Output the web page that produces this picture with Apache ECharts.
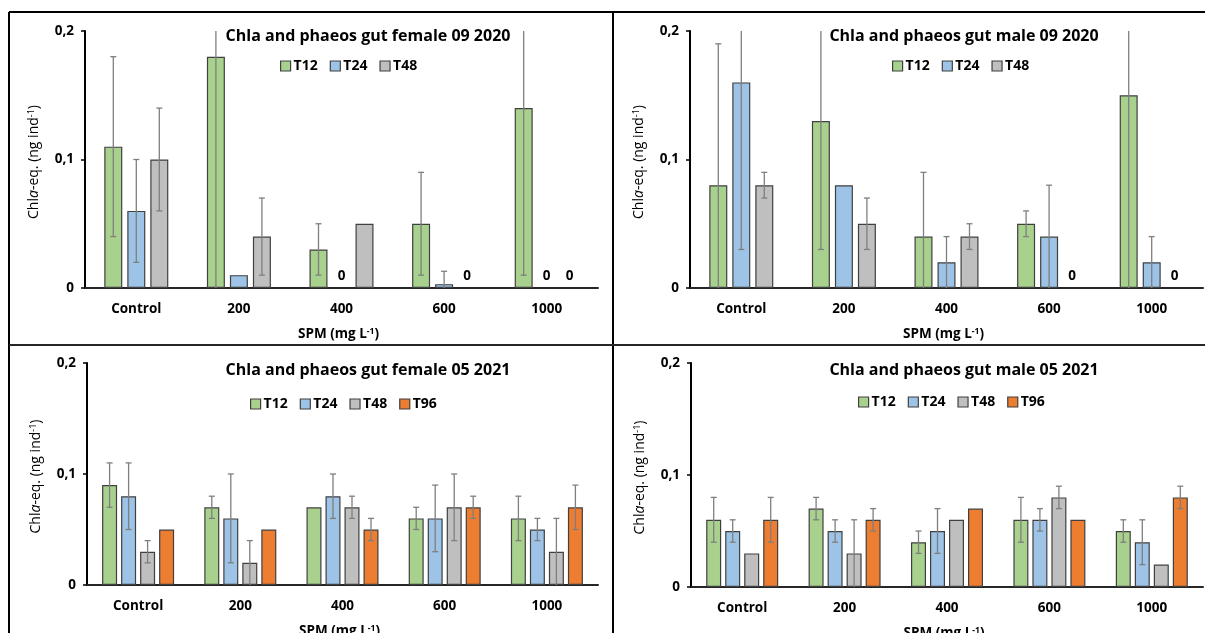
<!DOCTYPE html>
<html><head><meta charset="utf-8">
<script src="https://cdn.jsdelivr.net/npm/echarts@6/dist/echarts.min.js"></script>
<style>html,body{margin:0;padding:0;background:#fff}#c{width:1205px;height:633px}</style>
</head><body><div id="c"></div>
<script>
// ---------- data ----------
const categories = ['Control', '200', '400', '600', '1000'];
const yTickValues = [0, 0.1, 0.2];

const titleF20 = 'Chla and phaeos gut female 09 2020';
const titleM20 = 'Chla and phaeos gut male 09 2020';
const titleF21 = 'Chla and phaeos gut female 05 2021';
const titleM21 = 'Chla and phaeos gut male 05 2021';
const seriesNames3 = ['T12', 'T24', 'T48'];
const seriesNames4 = ['T12', 'T24', 'T48', 'T96'];

// female 09 2020 (means, sd)
const f20_T12 = [0.11, 0.18, 0.03, 0.05, 0.14];
const f20_T12_sd = [0.07, 0.19, 0.02, 0.04, 0.13];
const f20_T24 = [0.06, 0.01, 0, 0.003, 0];
const f20_T24_sd = [0.04, 0, 0, 0.01, 0];
const f20_T48 = [0.10, 0.04, 0.05, 0, 0];
const f20_T48_sd = [0.04, 0.03, 0, 0, 0];

// male 09 2020
const m20_T12 = [0.08, 0.13, 0.04, 0.05, 0.15];
const m20_T12_sd = [0.11, 0.10, 0.05, 0.01, 0.16];
const m20_T24 = [0.16, 0.08, 0.02, 0.04, 0.02];
const m20_T24_sd = [0.13, 0, 0.02, 0.04, 0.02];
const m20_T48 = [0.08, 0.05, 0.04, 0, 0];
const m20_T48_sd = [0.01, 0.02, 0.01, 0, 0];

// female 05 2021
const f21_T12 = [0.09, 0.07, 0.07, 0.06, 0.06];
const f21_T12_sd = [0.02, 0.01, 0, 0.01, 0.02];
const f21_T24 = [0.08, 0.06, 0.08, 0.06, 0.05];
const f21_T24_sd = [0.03, 0.04, 0.02, 0.03, 0.01];
const f21_T48 = [0.03, 0.02, 0.07, 0.07, 0.03];
const f21_T48_sd = [0.01, 0.02, 0.01, 0.03, 0.03];
const f21_T96 = [0.05, 0.05, 0.05, 0.07, 0.07];
const f21_T96_sd = [0, 0, 0.01, 0.01, 0.02];

// male 05 2021
const m21_T12 = [0.06, 0.07, 0.04, 0.06, 0.05];
const m21_T12_sd = [0.02, 0.01, 0.01, 0.02, 0.01];
const m21_T24 = [0.05, 0.05, 0.05, 0.06, 0.04];
const m21_T24_sd = [0.01, 0.01, 0.02, 0.01, 0.02];
const m21_T48 = [0.03, 0.03, 0.06, 0.08, 0.02];
const m21_T48_sd = [0, 0.03, 0, 0.01, 0];
const m21_T96 = [0.06, 0.06, 0.07, 0.06, 0.08];
const m21_T96_sd = [0.02, 0.01, 0, 0, 0.01];

// ---------- styles ----------
const FONT = '"Open Sans", "Noto Sans", sans-serif';
const colors = { T12: '#A9D18E', T24: '#9DC3E6', T48: '#BFBFBF', T96: '#ED7D31' };
const Y_MAX = 0.2;

const panels = [
  { title: titleF20, names: seriesNames3, vals: [f20_T12, f20_T24, f20_T48], sds: [f20_T12_sd, f20_T24_sd, f20_T48_sd],
    grid: { left: 85, top: 31, width: 513, height: 257 }, titleX: 368, titleY: 28, legendX: 280, legendY: 59, barW: 18, gapPx: 5 },
  { title: titleM20, names: seriesNames3, vals: [m20_T12, m20_T24, m20_T48], sds: [m20_T12_sd, m20_T24_sd, m20_T48_sd],
    grid: { left: 690, top: 31, width: 513, height: 257 }, titleX: 964, titleY: 28, legendX: 892, legendY: 59, barW: 18, gapPx: 5 },
  { title: titleF21, names: seriesNames4, vals: [f21_T12, f21_T24, f21_T48, f21_T96], sds: [f21_T12_sd, f21_T24_sd, f21_T48_sd, f21_T96_sd],
    grid: { left: 87, top: 363, width: 511, height: 222 }, titleX: 368, titleY: 362, legendX: 250, legendY: 397, barW: 15, gapPx: 4 },
  { title: titleM21, names: seriesNames4, vals: [m21_T12, m21_T24, m21_T48, m21_T96], sds: [m21_T12_sd, m21_T24_sd, m21_T48_sd, m21_T96_sd],
    grid: { left: 691, top: 363, width: 512, height: 224 }, titleX: 964, titleY: 362, legendX: 858, legendY: 395, barW: 15, gapPx: 4 }
];

const grids = [], xAxes = [], yAxes = [], series = [], titles = [], legends = [];

panels.forEach((p, pi) => {
  grids.push(Object.assign({ outerBoundsMode: 'none' }, p.grid));
  titles.push({ text: p.title, left: p.titleX, top: p.titleY, textAlign: 'center', padding: 0,
    textStyle: { fontFamily: FONT, fontSize: 16, fontWeight: 'bold', color: '#000' } });
  legends.push({ data: p.names, left: p.legendX, top: p.legendY, itemWidth: 10, itemHeight: 10, itemGap: 12,
    icon: 'rect', padding: 0,
    itemStyle: { borderColor: '#404040', borderWidth: 1.2 },
    textStyle: { fontFamily: FONT, fontSize: 14, fontWeight: 'bold', color: '#000', padding: [0, 0, 0, -2] },
    selectedMode: false });
  xAxes.push({ type: 'category', gridIndex: pi, data: categories,
    axisLine: { lineStyle: { color: '#262626', width: 2 } }, axisTick: { show: false },
    axisLabel: { fontFamily: FONT, fontSize: 13.5, fontWeight: 'bold', color: '#000', margin: 14 },
    name: '{n|SPM (mg L}{s|-1}{n|)}', nameLocation: 'middle', nameGap: 39,
    nameTextStyle: { padding: [0, 6, 0, 0], rich: { n: { fontFamily: FONT, fontSize: 13.5, fontWeight: 'bold', color: '#000' },
      s: { fontFamily: FONT, fontSize: 8.5, fontWeight: 'bold', color: '#000', padding: [0, 0, 6, 0] } } } });
  yAxes.push({ type: 'value', gridIndex: pi, min: 0, max: Y_MAX, interval: 0.1,
    axisLine: { show: true, lineStyle: { color: '#000', width: 2 } },
    axisTick: { show: true, length: 4, lineStyle: { color: '#000', width: 1.5 } },
    splitLine: { show: false },
    axisLabel: { fontFamily: FONT, fontSize: 13.5, fontWeight: 'bold', color: '#000', margin: 11,
      formatter: v => yTickValues.indexOf(+v.toFixed(3)) >= 0 ? String(+v.toFixed(3)).replace('.', ',') : '' },
    name: '{n|Chl}{i|a}{n|-eq. (ng ind}{s|-1}{n|)}', nameLocation: 'middle', nameGap: 43, nameRotate: 90,
    nameTextStyle: { padding: [0, 5, 0, 0], rich: { n: { fontFamily: FONT, fontSize: 14, color: '#000' },
      i: { fontFamily: FONT, fontSize: 14, fontStyle: 'italic', color: '#000' },
      s: { fontFamily: FONT, fontSize: 9, color: '#000', padding: [0, 0, 6, 0] } } } });

  const n = p.names.length;
  const gapPct = (p.gapPx / p.barW * 100).toFixed(1) + '%';
  p.names.forEach((nm, si) => {
    series.push({ type: 'bar', name: nm, xAxisIndex: pi, yAxisIndex: pi,
      barWidth: p.barW, barGap: gapPct,
      itemStyle: { color: colors[nm], borderColor: '#404040', borderWidth: 1.2 },
      label: { show: false, position: 'top', distance: 5, formatter: '0',
        fontFamily: FONT, fontSize: 13.5, fontWeight: 'bold', color: '#000' },
      data: p.vals[si].map(v => v === 0 ? { value: 0, itemStyle: { borderWidth: 0 }, label: { show: true } } : v),
      z: 2 });
    const offset = (si - (n - 1) / 2) * (p.barW + p.gapPx);
    series.push({ type: 'custom', name: 'err_' + nm, xAxisIndex: pi, yAxisIndex: pi, z: 5,
      data: p.vals[si].map((v, ci) => [ci, v, p.sds[si][ci]]),
      renderItem: (params, api) => {
        const v = api.value(1), sd = api.value(2);
        if (!(sd > 0)) return null;
        const lo = v - sd, hi = v + sd;
        const x = api.coord([api.value(0), 0])[0] + offset;
        const y1 = api.coord([api.value(0), Math.max(0, lo)])[1];
        const y2 = api.coord([api.value(0), Math.min(Y_MAX, hi)])[1];
        const st = { stroke: '#7F7F7F', lineWidth: 1.3 };
        const ch = [{ type: 'line', shape: { x1: x, y1: y1, x2: x, y2: y2 }, style: st }];
        if (lo > 0) ch.push({ type: 'line', shape: { x1: x - 3, y1: y1, x2: x + 3, y2: y1 }, style: st });
        if (hi < Y_MAX) ch.push({ type: 'line', shape: { x1: x - 3, y1: y2, x2: x + 3, y2: y2 }, style: st });
        return { type: 'group', children: ch };
      } });
  });
});

const B = '#000';
const graphic = [
  { type: 'line', shape: { x1: 9, y1: 12, x2: 1205, y2: 12 }, style: { stroke: B, lineWidth: 2 } },
  { type: 'line', shape: { x1: 9, y1: 12, x2: 9, y2: 633 }, style: { stroke: B, lineWidth: 2 } },
  { type: 'line', shape: { x1: 613, y1: 12, x2: 613, y2: 633 }, style: { stroke: B, lineWidth: 2 } },
  { type: 'line', shape: { x1: 9, y1: 345, x2: 1205, y2: 345 }, style: { stroke: '#262626', lineWidth: 2 } }
];

const chart = echarts.init(document.getElementById('c'), null, { renderer: 'canvas' });
chart.setOption({
  animation: false, backgroundColor: '#fff',
  title: titles, legend: legends, grid: grids, xAxis: xAxes, yAxis: yAxes, series: series, graphic: graphic
});
</script></body></html>
